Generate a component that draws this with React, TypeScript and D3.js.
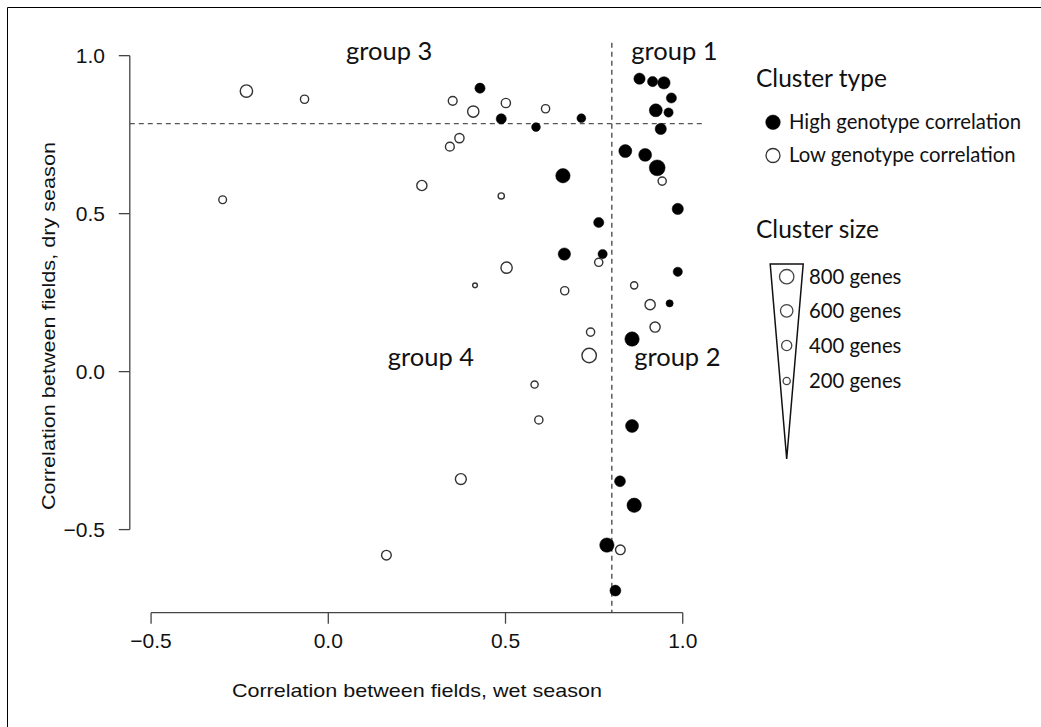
import React from 'react';
import {scaleLinear, scaleSqrt} from 'd3';

// wet season r, dry season r, cluster size (genes), high genotype correlation?
const wetCorr = [
  -0.231, -0.067, -0.298, 0.264, 0.428, 0.351, 0.409, 0.501, 0.613, 0.488,
  0.586, 0.714, 0.370, 0.343, 0.662, 0.488, 0.763,
  0.878, 0.915, 0.947, 0.968, 0.924, 0.960, 0.938, 0.838, 0.894, 0.928, 0.942, 0.986,
  0.666, 0.774, 0.763, 0.503, 0.414, 0.667, 0.986, 0.863, 0.908, 0.963, 0.740,
  0.922, 0.857, 0.736, 0.582, 0.594, 0.857, 0.374, 0.823, 0.863, 0.786, 0.824,
  0.164, 0.810
];
const dryCorr = [
  0.888, 0.862, 0.544, 0.589, 0.897, 0.857, 0.823, 0.850, 0.832, 0.800,
  0.774, 0.802, 0.739, 0.712, 0.620, 0.556, 0.472,
  0.927, 0.918, 0.914, 0.866, 0.827, 0.820, 0.768, 0.698, 0.686, 0.645, 0.603, 0.515,
  0.372, 0.372, 0.346, 0.329, 0.273, 0.256, 0.316, 0.273, 0.212, 0.216, 0.125,
  0.141, 0.103, 0.051, -0.041, -0.153, -0.172, -0.340, -0.347, -0.423, -0.549, -0.564,
  -0.581, -0.693
];
const genes = [
  590, 260, 230, 400, 400, 300, 490, 330, 260, 400,
  300, 300, 330, 300, 800, 150, 400,
  490, 400, 590, 400, 650, 330, 490, 650, 650, 970, 260, 490,
  590, 330, 260, 490, 86, 260, 330, 200, 400, 200, 260,
  400, 800, 800, 200, 260, 650, 460, 460, 800, 800, 360,
  360, 460
];
const highGeno = [
  0, 0, 0, 0, 1, 0, 0, 0, 0, 1,
  1, 1, 0, 0, 1, 0, 1,
  1, 1, 1, 1, 1, 1, 1, 1, 1, 1, 0, 1,
  1, 1, 0, 0, 0, 0, 1, 0, 0, 1, 0,
  0, 1, 0, 0, 0, 1, 0, 1, 1, 1, 0,
  0, 1
];

const ticks = [-0.5, 0, 0.5, 1.0];
const tickLabels = ['\u22120.5', '0.0', '0.5', '1.0'];
const wetCut = 0.8;
const dryCut = 0.785;
const groups = [
  {label: 'group 3', x: 0.05, y: 0.985},
  {label: 'group 1', x: 0.855, y: 0.985},
  {label: 'group 4', x: 0.168, y: 0.017},
  {label: 'group 2', x: 0.863, y: 0.017},
];
const sizeLegend = [800, 600, 400, 200];
const typeLegend = ['High genotype correlation', 'Low genotype correlation'];

const W = 1041, H = 727;
const x = scaleLinear().domain([-0.56, 1.06]).range([129.8, 704]);
const y = scaleLinear().domain([-0.763, 1.041]).range([612.7, 42.7]);
const r = scaleSqrt().domain([0, 800]).range([0, 7.2]);

const axisFont = '"Liberation Sans", Arial, sans-serif';
const labelFont = 'Lato, "Open Sans", sans-serif';

export default function App() {
  const pts = wetCorr.map((w, i) => ({w, d: dryCorr[i], g: genes[i], hi: highGeno[i] === 1}));
  // draw big first so small ones stay visible
  pts.sort((a, b) => b.g - a.g);
  const x0 = x.range()[0], x1 = x.range()[1];
  const y0 = y.range()[0], y1 = y.range()[1];
  const triTop = 264, triTip = 459, triX = 786.7, triHalf = 16.5;
  const sizeY = [276.7, 310.8, 345.5, 381];

  return (
    <div style={{position: 'absolute', left: 0, top: 0}}>
      <svg width={W} height={H} style={{display: 'block', background: '#fff'}}>
        <line x1={7.5} y1={7.5} x2={W} y2={7.5} stroke="#000" strokeWidth={1} />
        <line x1={7.5} y1={7.5} x2={7.5} y2={H} stroke="#000" strokeWidth={1} />

        {/* cut lines */}
        <line x1={x(wetCut)} x2={x(wetCut)} y1={y1} y2={y0} stroke="#333" strokeWidth={1.2} strokeDasharray="5,4" />
        <line x1={x0} x2={x1} y1={y(dryCut)} y2={y(dryCut)} stroke="#555" strokeWidth={1.2} strokeDasharray="5,4" />

        {/* y axis */}
        <line x1={x0} x2={x0} y1={y(1)} y2={y(-0.5)} stroke="#444" strokeWidth={1.3} />
        {ticks.map((t, i) => (
          <g key={'yt' + i}>
            <line x1={x0 - 11} x2={x0} y1={y(t)} y2={y(t)} stroke="#444" strokeWidth={1.3} />
            <text x={105} y={y(t) + 7} textAnchor="end" fontFamily={axisFont} fontSize={21} fill="#111">{tickLabels[i]}</text>
          </g>
        ))}
        {/* x axis */}
        <line x1={x(-0.5)} x2={x(1)} y1={y0} y2={y0} stroke="#444" strokeWidth={1.3} />
        {ticks.map((t, i) => (
          <g key={'xt' + i}>
            <line x1={x(t)} x2={x(t)} y1={y0} y2={y0 + 11} stroke="#444" strokeWidth={1.3} />
            <text x={x(t)} y={648} textAnchor="middle" fontFamily={axisFont} fontSize={21} fill="#111">{tickLabels[i]}</text>
          </g>
        ))}
        <text x={(x(-0.5) + x(1)) / 2} y={697} textAnchor="middle" fontFamily={axisFont} fontSize={19} fill="#111"
          textLength={370} lengthAdjust="spacingAndGlyphs">Correlation between fields, wet season</text>
        <text transform="translate(55,326) rotate(-90)" textAnchor="middle" fontFamily={axisFont} fontSize={19} fill="#111"
          textLength={368} lengthAdjust="spacingAndGlyphs">Correlation between fields, dry season</text>

        {/* points */}
        {pts.map((p, i) => (
          <circle key={'p' + i} cx={x(p.w)} cy={y(p.d)} r={r(p.g)}
            fill={p.hi ? '#000' : '#fff'} stroke={p.hi ? '#000' : '#333'} strokeWidth={p.hi ? 0.5 : 1.4} />
        ))}

        {/* group labels */}
        {groups.map((g, i) => (
          <text key={'g' + i} x={x(g.x)} y={y(g.y)} fontFamily={labelFont} fontSize={25.5} fill="#111">{g.label}</text>
        ))}

        {/* legend: cluster type */}
        <text x={756} y={87} fontFamily={labelFont} fontSize={24.5} fill="#111">Cluster type</text>
        {typeLegend.map((t, i) => (
          <g key={'tl' + i}>
            <circle cx={773} cy={122.3 + i * 33.2} r={i === 0 ? 7.3 : 7} fill={i === 0 ? '#000' : '#fff'}
              stroke={i === 0 ? '#000' : '#333'} strokeWidth={i === 0 ? 0.5 : 1.3} />
            <text x={789} y={129 + i * 33.2} fontFamily={labelFont} fontSize={20.3} fill="#111">{t}</text>
          </g>
        ))}

        {/* legend: cluster size */}
        <text x={756} y={238} fontFamily={labelFont} fontSize={24.5} fill="#111">Cluster size</text>
        <polygon points={`${triX - triHalf},${triTop} ${triX + triHalf},${triTop} ${triX},${triTip}`}
          fill="none" stroke="#111" strokeWidth={1.5} />
        {sizeLegend.map((s, i) => (
          <g key={'sl' + i}>
            <circle cx={triX} cy={sizeY[i]} r={r(s)} fill="#fff" stroke="#444" strokeWidth={1.3} />
            <text x={809} y={sizeY[i] + 7} fontFamily={labelFont} fontSize={20.3} fill="#111">{s} genes</text>
          </g>
        ))}
      </svg>
    </div>
  );
}
